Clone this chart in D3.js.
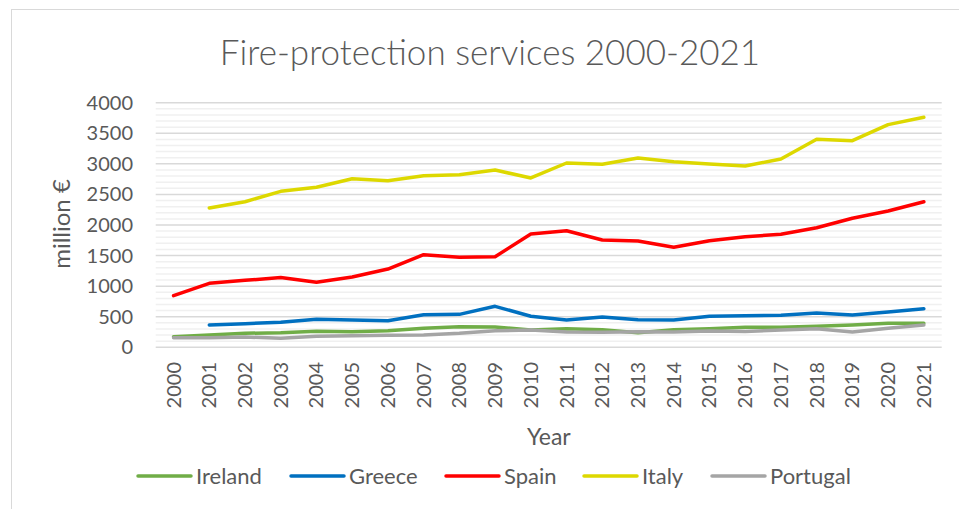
<!DOCTYPE html>
<html>
<head>
<meta charset="utf-8">
<script src="https://cdn.jsdelivr.net/npm/d3@7"></script>
<style>
  body { margin: 0; background: #fff; }
  svg text { font-family: Lato, "Open Sans", sans-serif; fill: #595959; }
</style>
</head>
<body>
<svg id="svg"></svg>
<script>
const years = d3.range(2000, 2022);
const ireland = [174, 201, 229, 239, 262, 255, 272, 311, 337, 332, 283, 305, 288, 239, 288, 305, 327, 327, 343, 365, 392, 392];
const greece = [null, 365, 386, 408, 458, 446, 435, 533, 539, 670, 507, 446, 496, 452, 446, 507, 517, 523, 561, 528, 577, 631];
const spain = [844, 1046, 1095, 1140, 1063, 1150, 1280, 1515, 1472, 1482, 1853, 1907, 1755, 1738, 1635, 1743, 1809, 1848, 1956, 2110, 2229, 2381];
const italy = [null, 2278, 2381, 2551, 2617, 2757, 2724, 2806, 2823, 2899, 2769, 3014, 2992, 3096, 3036, 2997, 2965, 3079, 3401, 3379, 3641, 3761];
const portugal = [157, 157, 168, 147, 180, 190, 196, 201, 229, 272, 283, 250, 245, 255, 250, 266, 260, 283, 305, 250, 311, 365];
const yTicks = [0, 500, 1000, 1500, 2000, 2500, 3000, 3500, 4000];

const series = [
    { name: "Ireland", values: ireland, colour: "#70AD47" },
    { name: "Greece", values: greece, colour: "#0070C0" },
    { name: "Spain", values: spain, colour: "#FF0000" },
    { name: "Italy", values: italy, colour: "#DDD800" },
    { name: "Portugal", values: portugal, colour: "#A5A5A5" }
];

const width = 959;
const height = 509;
let svg = d3.select("#svg").attr("width", width).attr("height", height);

// chart border (Excel chart area)
svg.append("rect")
    .attr("x", 11.5).attr("y", 9.5)
    .attr("width", 960).attr("height", 520)
    .attr("fill", "none")
    .attr("stroke", "#D9D9D9")
    .attr("stroke-width", 1);

const xScale = d3.scalePoint()
    .domain(years)
    .range([155.7, 941.7])
    .padding(0.5);

const yScale = d3.scaleLinear()
    .domain([0, 4000])
    .range([347.3, 102.7]);

// minor gridlines every 100
let grid = svg.append("g");
grid.selectAll("line.minor")
    .data(d3.range(0, 4001, 100).filter(v => v % 500 != 0))
    .join("line")
    .attr("class", "minor")
    .attr("x1", 155.7).attr("x2", 941.7)
    .attr("y1", d => yScale(d)).attr("y2", d => yScale(d))
    .attr("stroke", "#F0F0F0")
    .attr("stroke-width", 1.5);
grid.selectAll("line.major")
    .data(yTicks)
    .join("line")
    .attr("class", "major")
    .attr("x1", 155.7).attr("x2", 941.7)
    .attr("y1", d => yScale(d)).attr("y2", d => yScale(d))
    .attr("stroke", "#D9D9D9")
    .attr("stroke-width", 1.5);

// y tick labels
svg.append("g").selectAll("text")
    .data(yTicks)
    .join("text")
    .attr("x", 133)
    .attr("y", d => yScale(d))
    .attr("dy", "0.35em")
    .attr("text-anchor", "end")
    .attr("font-size", "20px")
    .text(d => d);

// x tick labels, rotated
svg.append("g").selectAll("text")
    .data(years)
    .join("text")
    .attr("transform", d => `translate(${xScale(d)},362) rotate(-90)`)
    .attr("dy", "0.35em")
    .attr("text-anchor", "end")
    .attr("font-size", "20px")
    .text(d => d);

// axis titles
svg.append("text")
    .attr("transform", "translate(62,224) rotate(-90)")
    .attr("dy", "0.35em")
    .attr("text-anchor", "middle")
    .attr("font-size", "24px")
    .text("million €");

svg.append("text")
    .attr("x", xScale(2010) + 18)
    .attr("y", 445)
    .attr("text-anchor", "middle")
    .attr("font-size", "23px")
    .text("Year");

// title
svg.append("text")
    .attr("x", 490)
    .attr("y", 65)
    .attr("text-anchor", "middle")
    .attr("font-size", "35px")
    .attr("font-weight", 300)
    .text("Fire-protection services 2000-2021");

// lines
const line = d3.line()
    .defined(d => d[1] != null)
    .x(d => xScale(d[0]))
    .y(d => yScale(d[1]));

svg.append("g").selectAll("path")
    .data(series)
    .join("path")
    .attr("d", s => line(years.map((y, i) => [y, s.values[i]])))
    .attr("fill", "none")
    .attr("stroke", s => s.colour)
    .attr("stroke-width", 3.5)
    .attr("stroke-linecap", "round")
    .attr("stroke-linejoin", "round");

// legend
const legendX = [138, 291, 446, 584, 712];
let legend = svg.append("g").selectAll("g")
    .data(series)
    .join("g")
    .attr("transform", (d, i) => `translate(${legendX[i]},476)`);
legend.append("line")
    .attr("x1", 0).attr("x2", 53)
    .attr("stroke", d => d.colour)
    .attr("stroke-width", 3.5)
    .attr("stroke-linecap", "round");
legend.append("text")
    .attr("x", 58)
    .attr("dy", "0.35em")
    .attr("font-size", "22px")
    .text(d => d.name);
</script>
</body>
</html>
